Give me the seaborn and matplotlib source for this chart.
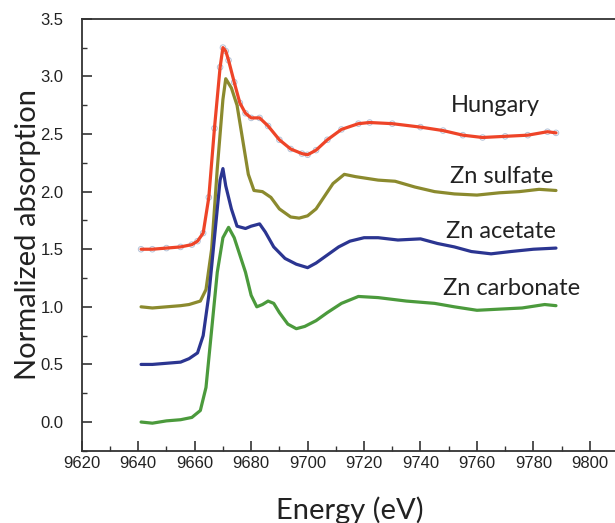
import matplotlib
matplotlib.use("Agg")
import matplotlib.pyplot as plt
import seaborn as sns
import pandas as pd
from matplotlib.ticker import MultipleLocator, FormatStrFormatter

sns.set_style("ticks")
plt.rcParams['font.family'] = ['Liberation Sans', 'DejaVu Sans']

# ─── DATA ────────────────────────────────────────────────────────────────────
hun_e = [9641, 9645, 9650, 9655, 9659, 9661, 9663, 9665, 9667, 9669, 9670, 9671, 9672,
         9674, 9676, 9678, 9680, 9683, 9686, 9690, 9694, 9698, 9700, 9703, 9707,
         9712, 9718, 9722, 9730, 9740, 9748, 9755, 9762, 9770, 9778, 9785, 9788]
hun_v = [1.50, 1.50, 1.51, 1.52, 1.54, 1.57, 1.64, 1.95, 2.55, 3.08, 3.25, 3.22, 3.14,
         2.95, 2.77, 2.68, 2.64, 2.64, 2.57, 2.45, 2.37, 2.33, 2.32, 2.36, 2.45,
         2.54, 2.59, 2.60, 2.59, 2.56, 2.53, 2.49, 2.47, 2.48, 2.49, 2.52, 2.51]

sul_e = [9641, 9645, 9650, 9655, 9658, 9662, 9664, 9666, 9668, 9670, 9671, 9673, 9675,
         9677, 9679, 9681, 9684, 9687, 9690, 9694, 9697, 9700, 9703, 9706, 9709,
         9713, 9717, 9725, 9731, 9738, 9745, 9752, 9760, 9768, 9775, 9782, 9788]
sul_v = [1.00, 0.99, 1.00, 1.01, 1.02, 1.05, 1.15, 1.50, 2.20, 2.80, 2.98, 2.90, 2.75,
         2.45, 2.15, 2.01, 2.00, 1.95, 1.85, 1.78, 1.77, 1.79, 1.85, 1.96, 2.07,
         2.15, 2.13, 2.10, 2.09, 2.04, 2.00, 1.98, 1.97, 1.99, 2.00, 2.02, 2.01]

ace_e = [9641, 9645, 9650, 9655, 9658, 9661, 9663, 9665, 9667, 9669, 9670, 9671, 9673,
         9675, 9678, 9680, 9683, 9685, 9688, 9692, 9696, 9700, 9703, 9707, 9711,
         9715, 9720, 9725, 9732, 9740, 9746, 9752, 9758, 9765, 9772, 9780, 9788]
ace_v = [0.50, 0.50, 0.51, 0.52, 0.55, 0.60, 0.75, 1.10, 1.60, 2.10, 2.20, 2.05, 1.85,
         1.70, 1.68, 1.70, 1.72, 1.65, 1.52, 1.42, 1.37, 1.34, 1.38, 1.45, 1.52,
         1.57, 1.60, 1.60, 1.58, 1.59, 1.55, 1.52, 1.48, 1.46, 1.48, 1.50, 1.51]

car_e = [9641, 9645, 9650, 9655, 9659, 9662, 9664, 9666, 9668, 9670, 9672, 9674, 9676,
         9678, 9680, 9682, 9684, 9686, 9688, 9690, 9693, 9696, 9699, 9703, 9707,
         9712, 9718, 9725, 9735, 9745, 9752, 9760, 9768, 9776, 9784, 9788]
car_v = [0.00, -0.01, 0.01, 0.02, 0.04, 0.10, 0.30, 0.80, 1.30, 1.60, 1.69, 1.60, 1.45,
         1.30, 1.10, 1.00, 1.02, 1.05, 1.03, 0.95, 0.85, 0.81, 0.83, 0.88, 0.95,
         1.03, 1.09, 1.08, 1.05, 1.03, 1.00, 0.97, 0.98, 0.99, 1.02, 1.01]

names = ["Hungary", "Zn sulfate", "Zn acetate", "Zn carbonate"]
label_e = [9766.7, 9768.8, 9768.5, 9772.4]
label_v = [2.745, 2.13, 1.65, 1.155]

colors = {"Hungary": "#ee4428", "Zn sulfate": "#8b8a2e",
          "Zn acetate": "#2b3591", "Zn carbonate": "#4b9a3c"}

frames = []
for nm, e, v in [(names[0], hun_e, hun_v), (names[1], sul_e, sul_v),
                 (names[2], ace_e, ace_v), (names[3], car_e, car_v)]:
    frames.append(pd.DataFrame({"energy": e, "absorption": v, "sample": nm}))
df = pd.concat(frames, ignore_index=True)

# ─── PLOT ────────────────────────────────────────────────────────────────────
fig = plt.figure(figsize=(6.15, 5.23), dpi=100)
ax = fig.add_axes([0.133, 0.138, 0.872, 0.826])

# measured points (open circles) for Hungary
sns.scatterplot(data=df[df["sample"] == "Hungary"], x="energy", y="absorption",
                ax=ax, marker="o", s=16, facecolors="none", edgecolor="#b3c2d8",
                linewidth=0.7, zorder=2, legend=False)
sns.lineplot(data=df, x="energy", y="absorption", hue="sample", palette=colors,
             ax=ax, linewidth=2.3, legend=False, sort=False, zorder=3)

for nm, xe, yv in zip(names, label_e, label_v):
    ax.text(xe, yv, nm, ha="center", va="center", fontsize=17,
            family=["Lato", "DejaVu Sans"], color="#222222")

ax.set_xlim(9620, 9810)
ax.set_ylim(-0.25, 3.5)
ax.xaxis.set_major_locator(MultipleLocator(20))
ax.xaxis.set_minor_locator(MultipleLocator(10))
ax.yaxis.set_major_locator(MultipleLocator(0.5))
ax.yaxis.set_minor_locator(MultipleLocator(0.25))
ax.tick_params(which="major", direction="in", length=7, width=1.2, labelsize=12,
               colors="#333333", labelcolor="#222222")
ax.tick_params(which="minor", direction="in", length=3.5, width=1.0, colors="#333333")
ax.tick_params(axis="x", which="major", pad=4)
ax.tick_params(axis="y", which="major", pad=13)
ax.yaxis.set_major_formatter(FormatStrFormatter("%.1f"))
for sp in ax.spines.values():
    sp.set_linewidth(1.3)
    sp.set_color("#333333")

ax.set_xlabel("Energy (eV)", fontsize=21, family=["Lato", "DejaVu Sans"],
              labelpad=18, color="#222222")
ax.set_ylabel("Normalized absorption", fontsize=21, family=["Lato", "DejaVu Sans"],
              labelpad=0, color="#222222")

fig.savefig("out.png", dpi=100)
